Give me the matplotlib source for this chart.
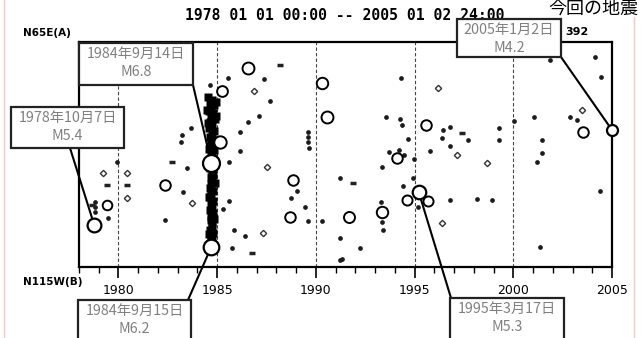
import matplotlib
matplotlib.use("Agg")
import matplotlib.pyplot as plt
from matplotlib.patches import Rectangle, ConnectionPatch
from matplotlib.lines import Line2D

# ---- data (year, distance along section A->B, 0 = N65E(A), 100 = N115W(B)) ----
dot_year = [1979.93, 1978.81, 1978.81, 1978.81, 1979.47, 1983.47, 1983.27, 1982.36, 1983.22, 1983.67,
            1983.17, 1985.55, 1984.64, 1987.37, 1987.68, 1987.12, 1986.56, 1986.16, 1986.16, 1989.60,
            1989.60, 1989.60, 1989.65, 1985.60, 1989.04, 1988.74, 1989.45, 1989.60, 1990.31, 1991.22,
            1991.22, 1991.22, 1985.60, 1985.29, 1985.85, 1986.41, 1985.75, 1994.31, 1993.55, 1994.26,
            1994.36, 1996.44, 1996.79, 1996.39, 1996.79, 1997.71, 1994.67, 1995.78, 1993.70, 1994.21,
            1994.46, 1999.28, 1999.28, 2000.04, 2001.05, 2001.45, 2001.45, 2001.20, 2001.86, 2004.14,
            2004.44, 2002.87, 2003.23, 1993.35, 1994.97, 1994.92, 1994.41, 1995.17, 1996.79, 1993.30,
            1993.35, 1993.40, 1992.23, 1991.32, 1998.16, 1998.92, 2001.35, 2004.39]
dot_dist = [53.3, 71.1, 73.3, 75.6, 78.2, 56.0, 66.7, 79.1, 41.3, 38.2,
            44.4, 16.0, 19.1, 16.4, 26.2, 32.9, 35.6, 40.0, 48.4, 40.0,
            42.2, 44.4, 47.1, 53.3, 66.2, 69.3, 73.3, 79.6, 79.6, 60.4,
            87.1, 96.9, 70.7, 74.2, 83.6, 86.2, 91.6, 16.0, 33.3, 34.2,
            36.9, 39.1, 37.8, 42.7, 46.2, 43.6, 43.1, 48.4, 48.9, 48.0,
            50.2, 38.2, 43.6, 35.1, 33.3, 43.6, 49.3, 53.3, 8.0, 6.7,
            15.6, 33.3, 34.7, 55.6, 52.0, 60.4, 64.0, 73.3, 70.2, 71.1,
            80.0, 83.6, 91.6, 96.4, 69.8, 70.2, 91.1, 66.2]

dia_year = [1979.22, 1980.43, 1980.43, 1983.72, 1986.87, 1987.52, 1987.32, 1996.19, 1997.15, 2003.48,
            1998.67, 1996.39]
dia_dist = [58.2, 58.2, 69.3, 71.6, 21.8, 55.6, 84.9, 20.4, 50.2, 30.2,
            53.8, 80.4]

dash_year = [1979.42, 1980.43, 1982.71, 1988.18, 1986.76, 1997.40, 1991.88, 1978.66]
dash_dist = [63.6, 63.6, 53.3, 10.2, 93.8, 40.4, 62.7, 72.4]

# 1984 aftershock sequence (dense column)
col_year = [1984.55, 1984.75, 1984.62, 1984.85, 1984.70, 1984.58, 1984.80, 1984.68, 1984.90, 1984.64,
            1984.76, 1984.60, 1984.84, 1984.72, 1984.66, 1984.79, 1984.70, 1984.62, 1984.82, 1984.74,
            1984.68, 1984.78, 1984.65, 1984.72, 1984.80, 1984.67, 1984.75, 1984.70, 1984.63, 1984.79,
            1984.71, 1984.66, 1984.77, 1984.69, 1984.74, 1984.64, 1984.80, 1984.70, 1984.67, 1984.76,
            1984.72, 1984.65, 1984.78, 1984.70, 1984.74, 1984.68, 1984.80, 1984.66,
            1984.50, 1984.95, 1984.52, 1984.93, 1984.88, 1984.57, 1984.90, 1984.60, 1984.86, 1984.58]
col_dist = [24.4, 25.6, 27.1, 28.0, 29.5, 30.8, 31.7, 33.2, 34.0, 35.4,
            36.9, 38.1, 39.6, 40.8, 42.3, 43.5, 45.0, 46.2, 47.9, 49.1,
            50.6, 52.0, 55.8, 57.3, 58.9, 60.2, 61.8, 63.1, 64.7, 66.0,
            67.6, 68.9, 70.5, 71.8, 73.4, 74.7, 76.2, 77.6, 79.1, 80.5,
            82.0, 83.4, 84.9, 86.2, 87.8, 89.0, 90.3, 92.5,
            30.0, 26.5, 36.0, 33.0, 44.0, 47.5, 62.5, 69.0, 78.5, 85.5]

circ_year = [1979.42, 1982.36, 1986.56, 1985.24, 1985.14, 1990.31, 1990.56, 1988.84, 1988.69, 1991.68,
             1995.58, 1994.11, 1993.35, 1994.62, 1995.68, 2003.53]
circ_dist = [72.4, 63.6, 11.6, 21.8, 44.4, 18.2, 33.3, 61.3, 77.8, 77.8,
             36.9, 51.6, 75.6, 70.2, 70.7, 40.0]
circ_mag = [3.6, 4.0, 4.6, 4.1, 4.8, 4.4, 4.6, 4.0, 4.0, 4.2,
            4.0, 4.0, 4.4, 3.8, 3.8, 4.0]

ev_date = ["1978年10月7日", "1984年9月14日", "1984年9月15日", "1995年3月17日", "2005年1月2日"]
ev_mlab = ["M5.4", "M6.8", "M6.2", "M5.3", "M4.2"]
ev_year = [1978.77, 1984.70, 1984.70, 1995.21, 2005.00]
ev_dist = [81.3, 53.8, 91.1, 66.7, 39.1]
ev_mag = [5.4, 6.8, 6.2, 5.3, 4.2]

W, H = 644, 338
def fx(x):
    return x / W
def fy(y):
    return 1 - y / H
def msize(m):
    # circle diameter in points from magnitude
    return (11 + (m - 4.2) * 2.3) * 0.72

cjk = ['Noto Sans CJK JP', 'DejaVu Sans']

fig = plt.figure(figsize=(6.44, 3.38), dpi=100)
ax = fig.add_axes([fx(79), 71 / H, 533 / W, 225 / H])

for yr in [1980, 1985, 1990, 1995, 2000]:
    ax.axvline(yr, color='#444444', lw=0.8, linestyle=(0, (3, 2)), zorder=1)

ax.plot(dot_year, dot_dist, 'o', ms=3.4, color='#1c1c1c', mec='none', zorder=3)
ax.plot(dia_year, dia_dist, 'D', ms=3.2, mfc='white', mec='#333333', mew=1.0, zorder=3)
ax.plot(dash_year, dash_dist, '_', ms=5, color='#222222', mew=2.5, zorder=3)
ax.plot(col_year, col_dist, 's', ms=5.5, color='black', mec='none', zorder=3)

for y, d, m in zip(circ_year, circ_dist, circ_mag):
    ax.plot(y, d, 'o', ms=msize(m), mfc='white', mec='black', mew=1.4, zorder=4)
for y, d, m in zip(ev_year, ev_dist, ev_mag):
    ax.plot(y, d, 'o', ms=msize(m), mfc='white', mec='black', mew=1.6, zorder=5, clip_on=False)

ax.set_xlim(1978, 2005)
ax.set_ylim(100, 0)
ax.set_yticks([])
ax.set_xticks([1980, 1985, 1990, 1995, 2000, 2005])
ax.set_xticks(range(1978, 2006), minor=True)
ax.tick_params(axis='x', which='major', direction='out', length=8, width=1.2, pad=4, labelsize=9)
ax.tick_params(axis='x', which='minor', direction='out', length=4, width=1.0)
for s in ax.spines.values():
    s.set_linewidth(1.6)

# annotation boxes (pixel layout) and connectors
boxes = [(11, 107, 124, 148), (79, 43, 193, 85), (78, 300, 191, 342), (450, 298, 564, 342), (457, 19, 561, 57)]
anchors = [(70, 148), (193, 85), (188, 300), (451, 298), (561, 57)]
for i in range(5):
    x0, y0, x1, y1 = boxes[i]
    ax_, ay_ = anchors[i]
    con = ConnectionPatch(xyA=(fx(ax_), fy(ay_)), coordsA='figure fraction',
                          xyB=(ev_year[i], ev_dist[i]), coordsB='data',
                          color='black', lw=1.5, zorder=2, clip_on=False)
    ax.add_artist(con)
    fig.add_artist(Rectangle((fx(x0), fy(y1)), (x1 - x0) / W, (y1 - y0) / H,
                             transform=fig.transFigure, fc='white', ec='#222222', lw=1.6, zorder=5))
    cx = fx((x0 + x1) / 2)
    fig.text(cx, fy(y0 + 11), ev_date[i], family=cjk, size=10.3, color='#808080',
             ha='center', va='center', zorder=6)
    fig.text(cx, fy(y0 + 29), ev_mlab[i], family=cjk, size=10.3, color='#808080',
             ha='center', va='center', zorder=6)

fig.text(fx(345), fy(15), '1978 01 01 00:00 -- 2005 01 02 24:00', family='DejaVu Sans Mono',
         weight='bold', size=10.6, ha='center', va='center')
fig.text(fx(577), fy(32), '392', weight='bold', size=8, ha='center', va='center', zorder=7)
fig.text(fx(23), fy(33), 'N65E(A)', weight='bold', size=7.5, ha='left', va='center')
fig.text(fx(23), fy(282), 'N115W(B)', weight='bold', size=7.5, ha='left', va='center')
fig.text(fx(548), fy(9), '今回の地震', family=cjk, size=13, ha='left', va='center')

fig.add_artist(Line2D([fx(4), fx(4)], [0, 1], color='#f5c6c6', lw=1))
fig.add_artist(Line2D([fx(634), fx(634)], [0, fy(17)], color='#f5c6c6', lw=1))

fig.savefig('out.png', dpi=100)
